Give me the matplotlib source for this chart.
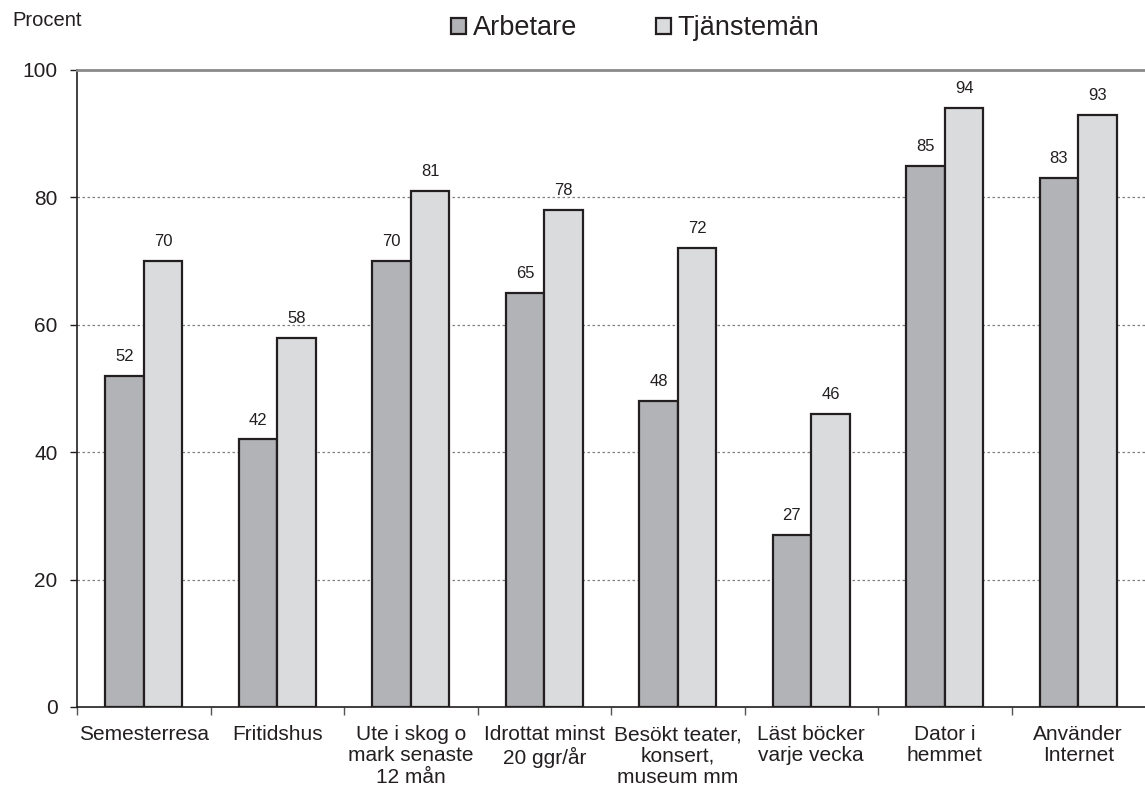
import matplotlib
matplotlib.use("Agg")
import matplotlib.pyplot as plt
import numpy as np
from matplotlib.patches import Patch

plt.rcParams['font.family'] = ['Liberation Sans', 'DejaVu Sans']

# data
categories = ["Semesterresa", "Fritidshus", "Ute i skog o\nmark senaste\n12 mån",
              "Idrottat minst\n20 ggr/år", "Besökt teater,\nkonsert,\nmuseum mm",
              "Läst böcker\nvarje vecka", "Dator i\nhemmet", "Använder\nInternet"]
arbetare = [52, 42, 70, 65, 48, 27, 85, 83]
tjansteman = [70, 58, 81, 78, 72, 46, 94, 93]
series_names = ["Arbetare", "Tjänstemän"]
yticks = [0, 20, 40, 60, 80, 100]

col_a = "#b2b3b6"
col_t = "#dadbdd"
edge = "#231f20"

fig = plt.figure(figsize=(11.45, 7.89), dpi=100)
ax = fig.add_axes([77/1145, 1 - 707/789, 1 - 77/1145, (707 - 70)/789])

x = np.arange(len(categories))
w = 0.29
bars_a = ax.bar(x - w/2, arbetare, w, color=col_a, edgecolor=edge, linewidth=1.6, zorder=3)
bars_t = ax.bar(x + w/2, tjansteman, w, color=col_t, edgecolor=edge, linewidth=1.6, zorder=3)

for bars, vals in [(bars_a, arbetare), (bars_t, tjansteman)]:
    for b, v in zip(bars, vals):
        ax.annotate(str(v), (b.get_x() + b.get_width()/2, v), xytext=(0, 14),
                    textcoords="offset points", ha="center", va="center", fontsize=12,
                    color="#231f20")

ax.set_xlim(-0.5, 7.5)
ax.set_ylim(0, 100)
ax.set_yticks(yticks)
ax.tick_params(axis="y", labelsize=15, length=5, width=1, color="#231f20", pad=9,
               labelcolor="#231f20")
for yv in yticks[1:-1]:
    ax.axhline(yv, color="#808080", linestyle=(0, (2, 2)), linewidth=0.9, zorder=1)

ax.set_xticks(x)
ax.set_xticklabels(categories, fontsize=15, linespacing=1.15, color="#231f20")
ax.tick_params(axis="x", which="major", length=0, pad=13)
ax.set_xticks(np.arange(-0.5, 7.5, 1), minor=True)
ax.tick_params(axis="x", which="minor", length=6, width=1, color="#555555")

ax.spines["right"].set_visible(False)
ax.spines["top"].set_color("#8a8a8a")
ax.spines["top"].set_linewidth(2)
ax.spines["left"].set_color("#231f20")
ax.spines["bottom"].set_color("#231f20")
ax.spines["left"].set_linewidth(1.2)
ax.spines["bottom"].set_linewidth(1.2)

handles = [Patch(facecolor=col_a, edgecolor=edge, linewidth=1.6),
           Patch(facecolor=col_t, edgecolor=edge, linewidth=1.6)]
fig.legend(handles, series_names, loc="center", bbox_to_anchor=(0.555, 0.964), ncol=2,
           frameon=False, fontsize=19.5, handlelength=0.55, handleheight=0.55,
           handletextpad=0.25, columnspacing=2.9, labelcolor="#231f20")

fig.text(12/1145, 1 - 20/789, "Procent", fontsize=14.5, va="center", ha="left", color="#231f20")

fig.savefig("out.png", dpi=100)
